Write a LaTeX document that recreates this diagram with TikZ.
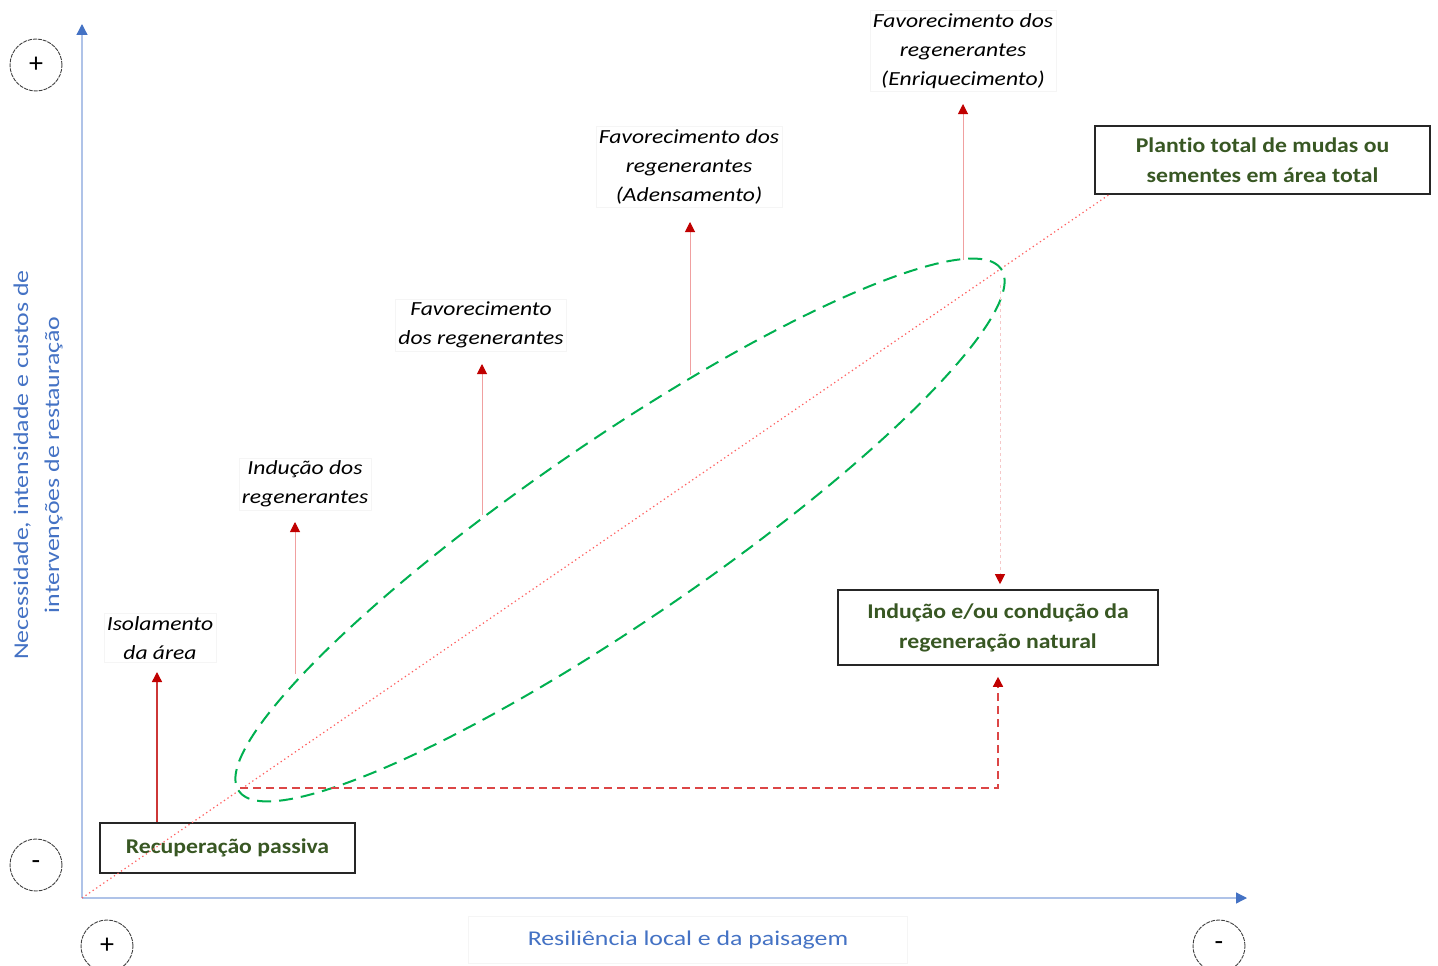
\documentclass[tikz,border=0pt]{standalone}
\usepackage{fontspec}
\setmainfont{Carlito}
\newfontfamily\lblfont{Carlito}[FakeStretch=1.18,Ligatures=NoCommon]
\newfontfamily\boxfont{Carlito}[FakeStretch=1.13,Ligatures=NoCommon]
\newfontfamily\axfont{Carlito}[FakeStretch=1.23,Ligatures=NoCommon]
\usetikzlibrary{arrows.meta,shapes.geometric,calc}
\definecolor{axisblue}{RGB}{175,195,232}
\definecolor{tipblue}{RGB}{68,114,196}
\definecolor{txtblue}{RGB}{68,114,196}
\definecolor{boxgreen}{RGB}{56,87,35}
\definecolor{ellgreen}{RGB}{0,176,80}
\definecolor{darkred}{RGB}{192,0,0}
\definecolor{linered}{RGB}{205,55,55}
\definecolor{pinkline}{RGB}{240,160,160}
\definecolor{dotred}{RGB}{255,95,95}
\definecolor{faintred}{RGB}{245,200,200}
\definecolor{dashred}{RGB}{220,70,70}
\begin{document}
\begin{tikzpicture}[x=1pt,y=-1pt,
  signcircle/.style={circle,draw=black!75,line width=0.9pt,dash pattern=on 4pt off 1pt,minimum size=52pt,inner sep=0pt,font=\fontsize{28}{28}\selectfont},
  axisline/.style={draw=axisblue,line width=1.3pt,-{Triangle[width=11pt,length=11pt,color=tipblue]}},
  greenbox/.style={draw=black!85,line width=1.6pt,text=boxgreen,align=center,inner sep=0pt,font=\boxfont\bfseries\fontsize{21}{30}\selectfont},
  lab/.style={draw=black!4,align=center,font=\lblfont\itshape\fontsize{20}{29}\selectfont,inner sep=3pt},
  redtip/.style={-{Triangle[width=10pt,length=10pt,color=darkred]}},
  pinkarrow/.style={redtip,draw=pinkline,line width=1pt},
  dotline/.style={draw=dotred,line width=1.2pt,dash pattern=on 1.3pt off 3pt},
  ellstyle/.style={ellipse,draw=ellgreen,line width=2pt,dash pattern=on 14pt off 8pt,inner sep=0pt},
  reddash/.style={draw=dashred,line width=1.5pt,dash pattern=on 8pt off 5pt}
]
\useasboundingbox (0,0) rectangle (1438,966);

% sign circles
\node[signcircle] (ptop) at (36,65) {+};
\node[signcircle] (mleft) at (36,865) {-};
\node[signcircle] (pbot) at (107,946) {+};
\node[signcircle] (mright) at (1219,946) {-};

% axes
\coordinate (O) at (82,898);
\coordinate (ytop) at (82,24);
\coordinate (xend) at (1247,898);
\draw[axisline] (O) -- (ytop);
\draw[axisline] (O) -- (xend);

% axis labels
\node[rotate=90,text=txtblue,align=center,font=\axfont\fontsize{21}{31}\selectfont] (ylab) at (38,465)
  {Necessidade, intensidade e custos de\\intervenções de restauração};
\node[draw=black!4,text=txtblue,font=\axfont\fontsize{21}{25}\selectfont,minimum width=439pt,minimum height=47pt] (xlab) at (688,940)
  {Resiliência local e da paisagem};

% boxes
\node[greenbox,minimum width=335pt,minimum height=68pt] (plantio) at (1262.5,160)
  {Plantio total de mudas ou\\sementes em área total};
\node[greenbox,minimum width=320pt,minimum height=75pt] (inducao) at (998,627.5)
  {Indução e/ou condução da\\regeneração natural};
\node[greenbox,minimum width=255pt,minimum height=50pt] (recup) at (227.5,848)
  {Recuperação passiva};

% diagonal dotted line
\coordinate (dEnd) at (1110,194);
\draw[dotline] (O) -- (dEnd);

% ellipse
\node[ellstyle,minimum width=924pt,minimum height=180pt,rotate=34.4] (ell) at (620,530) {};

% labels
\node[lab] (l1) at (160,638) {Isolamento\\da área};
\node[lab] (l2) at (305,484) {Indução dos\\regenerantes};
\node[lab] (l3) at (481,325) {Favorecimento\\dos regenerantes};
\node[lab] (l4) at (689,167) {Favorecimento dos\\regenerantes\\(Adensamento)};
\node[lab] (l5) at (963,51) {Favorecimento dos\\regenerantes\\(Enriquecimento)};

% arrow start/tip coordinates
\coordinate (t1) at (157,672);
\coordinate (s2) at (295,674);
\coordinate (t2) at (295,522);
\coordinate (s3) at (482,515);
\coordinate (t3) at (482,364);
\coordinate (s4) at (690,375);
\coordinate (t4) at (690,222);
\coordinate (s5) at (963,260);
\coordinate (t5) at (963,104);

\draw[redtip,draw=linered,line width=1.4pt] (recup.north -| t1) -- (t1);
\draw[pinkarrow] (s2) -- (t2);
\draw[pinkarrow] (s3) -- (t3);
\draw[pinkarrow] (s4) -- (t4);
\draw[pinkarrow] (s5) -- (t5);

% dashed connectors to Inducao box
\coordinate (eL) at (240,788);
\coordinate (eR) at (1000,285);
\draw[reddash,redtip,shorten >=11pt] (eL) -- (eL -| inducao.south) -- (inducao.south);
\draw[redtip,draw=faintred,line width=1pt,dash pattern=on 3pt off 3pt,shorten >=5pt] (eR) -- (eR |- inducao.north);
\end{tikzpicture}
\end{document}
